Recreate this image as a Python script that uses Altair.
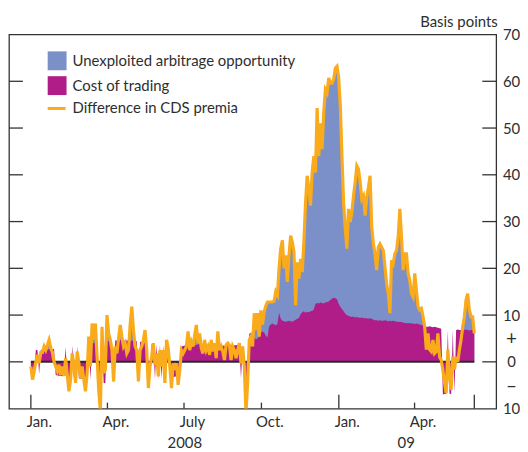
import altair as alt
import pandas as pd

diff_jan_apr08 = [-1, -3.8, -2, 0, 1.5, -0.3, 2, 2, 3.3, 2.5, 3.6, 4.7, 3, 2, 0, -1, -2, -0.6,
                  -2.8, -1, -3, 0.8, -2.8, -6.3, -3.8, 1.8, -0.6, -4.5, 2.2, -0.3, -3.5, -1, -3.8,
                  -6.3, -2.4, 5.4, -1, 8.2, 4.7, 8.2, 1.1, -6, -10.5, 7.5, -2.4, -1.7, 10, 6.1, 4.7,
                  2.5, -4.2, 3.3, 1.8, 5, 7.9, 5.4, 3.3, 4, 1.8, 2.5, 7.9, 11.8, 6.8, 3.3, 2.5, -4.2,
                  2.5, 3.3, 4.7]
diff_may_sep08 = [6.8, 2.5, -5.6, -1, 1.1, 4, -0.6, 1.8, -3.1, 2.5, -1, 2.5, -4.5, 4.7, 2.9, -1,
                  -5.6, -0.3, -1.7, -0.3, -4.9, -1.7, 2.5, 1.8, 2.5, 3.3, 6.5, 2.5, 4.3, 3.3, 5.7,
                  7.9, 4, 6.1, 2.9, 1.8, 4.7, 2.5, 3.3, 1.5, 4.7, 2.2, 4, 0.8, 6.5, 2.5, 3.3, 2.2,
                  0.4, 3.6, 4, 3.6, 0.4, 3.3, 2.5, 0.8, 2.5, 4, -0.3, 3.3, -1, -11, -4.5, 4.7, 5.4,
                  3.3, 10.4, 6.8, 10.4, 5.4, 11]
diff_oct08_jan09 = [8, 10.7, 12, 12.8, 12.8, 12.8, 12.8, 13, 15, 14.3, 20, 24.2, 26, 20, 22.8, 17.1,
                    22.8, 27, 25.6, 23.5, 12.1, 21.3, 17.8, 22, 19.2, 25.6, 34, 39.8, 37, 33.4, 40.5,
                    44, 40.5, 54.3, 44, 51, 45.5, 53.3, 58.2, 57.5, 60.7, 59.6, 59.6, 60.4, 62.8,
                    63.2, 61, 54.7, 44, 34, 28.4, 24.2, 32.7, 29.9, 32, 35.5, 38.4, 41.9, 41.2, 38.4,
                    34.8, 35.5, 31.3]
diff_feb_jun09 = [35.2, 37.3, 39.8, 28.8, 25.2, 23.1, 19.6, 24.5, 25.2, 24.5, 23.8, 20.3, 16.7, 14.6,
                  10.4, 21.7, 21, 23.1, 23.8, 26.7, 32.7, 26.7, 19.6, 23.1, 23.1, 18.9, 17.4, 14.6,
                  13.9, 18.9, 15.3, 11.8, 11.1, 11.4, 9.7, 7.5, 2.6, 6.1, 2.6, 2.2, 4.7, 1.8, 2.2,
                  6.1, 1.1, 0.4, -1.7, -4.5, -6.7, 2.6, -3.1, -6, 1.1, -1.7, 1.1, 0, 2.6, 4.7, 7.5,
                  9.6, 13.2, 14.6, 11.1, 9.6, 9.6, 6.1]

cost_jan_apr08 = [2.4, 2.5, 2.5, 2.6, 2.5, 2.6, 2.6, 2.5, 2.6, 2.5, 2.6, 2.7, 2.6, 2.7, 2.8, 2.8, 2.9,
                  3.0, 3.0, 3.1, 3.0, 3.2, 3.1, 3.3, 3.4, 3.5, 3.4, 3.3, 3.4, 3.5, 3.6, 3.5, 3.6, 3.7,
                  3.6, 3.7, 3.8, 3.9, 4.0, 4.1, 4.2, 4.3, 4.4, 4.5, 4.5, 4.6, 4.5, 4.4, 4.5, 4.6, 4.7,
                  4.6, 4.5, 4.5, 4.6, 4.7, 4.6, 4.5, 4.6, 4.5, 4.4, 4.5, 4.6, 4.5, 4.4, 4.3, 4.3, 4.2,
                  4.1]
cost_may_sep08 = [4.0, 3.9, 3.9, 3.8, 3.8, 3.7, 3.7, 3.8, 3.7, 3.6, 3.6, 3.5, 3.5, 3.4, 3.4, 3.3, 3.3,
                  3.2, 3.2, 3.1, 3.1, 3.2, 3.3, 3.4, 3.5, 3.6, 3.6, 3.7, 3.6, 3.5, 3.5, 3.6, 3.7, 3.8,
                  3.7, 3.6, 3.5, 3.5, 3.4, 3.5, 3.6, 3.5, 3.4, 3.4, 3.5, 3.6, 3.5, 3.5, 3.4, 3.5, 3.6,
                  3.7, 3.6, 3.5, 3.5, 3.6, 3.5, 3.4, 3.5, 3.6, 3.7, 3.8, 5.8, 6.0, 6.2, 6.0, 5.2, 4.8,
                  5.0, 5.5, 6.2]
cost_oct08_jan09 = [6.5, 6.3, 5.6, 5.2, 7.6, 8.0, 8.2, 8.0, 7.8, 8.1, 10.5, 9.2, 8.8, 8.7, 8.6, 8.7,
                    8.8, 8.7, 8.6, 8.8, 9.0, 9.2, 9.4, 10.2, 10.6, 10.8, 10.5, 10.7, 10.6, 10.8, 10.9,
                    11.2, 12.4, 12.6, 12.5, 12.7, 12.6, 12.5, 12.7, 12.8, 12.9, 13.2, 13.5, 13.7,
                    13.6, 13.4, 12.4, 11.8, 11.3, 10.8, 10.3, 10.0, 9.8, 9.7, 9.6, 9.7, 9.5, 9.6, 9.5,
                    9.4, 9.5, 9.4, 9.3]
cost_feb_jun09 = [9.3, 9.2, 9.3, 9.2, 9.0, 8.9, 8.9, 8.8, 8.9, 8.8, 8.8, 8.9, 8.8, 8.7, 8.8, 8.7, 8.8,
                  8.7, 8.6, 8.6, 8.5, 8.5, 8.4, 8.3, 8.3, 8.2, 8.3, 8.2, 8.2, 8.1, 8.2, 8.1, 8.0, 7.9,
                  7.8, 7.6, 7.5, 7.5, 7.6, 7.5, 7.4, 7.5, 7.4, 7.3, 7.2, 7.1, 7.0, 6.9, 6.9, 6.8, 6.8,
                  6.9, 6.8, 6.7, 6.8, 6.9, 6.8, 6.8, 6.7, 6.8, 6.9, 6.8, 6.7, 6.8, 6.8, 6.7]

series_start = "2008-01-01"
series_end = "2009-06-11"

month_ticks = ["2008-01-01", "2008-04-01", "2008-07-01", "2008-10-01", "2009-01-01", "2009-04-01"]
long_ticks = ["2008-01-01", "2009-01-01", "2009-06-11"]
short_ticks = ["2008-04-01", "2008-07-01", "2008-10-01", "2009-04-01"]
year_labels = ["2008", "09"]
year_centres = ["2008-07-02", "2009-03-22"]
y_tick_values = [0, 10, 20, 30, 40, 50, 60]
y_label_values = [70, 60, 50, 40, 30, 20, 10, 5, 0, -5, -10]
legend_labels = ["Unexploited arbitrage opportunity", "Cost of trading", "Difference in CDS premia"]

# ---- Styling ----
BLUE = "#7b8fc8"
MAGENTA = "#b01c88"
ORANGE = "#f9ab1b"
DARK = "#333333"
TEXT = "#2e2e2e"
FONT = "Lato"
FS = 15
W, H = 491, 377

diff = diff_jan_apr08 + diff_may_sep08 + diff_oct08_jan09 + diff_feb_jun09
cost = cost_jan_apr08 + cost_may_sep08 + cost_oct08_jan09 + cost_feb_jun09
dates = pd.date_range(series_start, series_end, periods=len(diff))
df = pd.DataFrame({"date": dates, "d": diff, "c": cost})


def dt(s):
    t = pd.Timestamp(s)
    return alt.DateTime(year=t.year, month=t.month, date=t.day)


xscale = alt.Scale(domain=[alt.DateTime(year=2007, month=12, date=6),
                           alt.DateTime(year=2009, month=7, date=7)])
yscale = alt.Scale(domain=[-10, 70], nice=False, zero=False)

xaxis = alt.Axis(
    values=[dt(s) for s in month_ticks],
    labelExpr="['Jan.','Feb.','Mar.','Apr.','May','June','July','Aug.','Sep.','Oct.','Nov.','Dec.'][month(datum.value)]",
    ticks=False, domain=False, grid=False, title=None,
    labelAlign="center", labelOffset=8, labelBaseline="alphabetic", labelPadding=18,
    labelFlush=False, labelOverlap=False, labelBound=False,
    labelFont=FONT, labelFontSize=FS, labelColor=TEXT,
)
yaxis = alt.Axis(
    orient="right", values=y_label_values,
    labelExpr="datum.value == 5 ? '+' : (datum.value == -5 ? '\u2013' : '' + abs(datum.value))",
    ticks=False, tickSize=0, domain=False, grid=False,
    labelAlign="center", labelBaseline="middle", labelPadding=15,
    labelFontSize={"condition": {"test": "abs(datum.value) == 5", "value": 19}, "value": FS},
    labelFlush=False, labelOverlap=False, labelBound=False,
    labelFont=FONT, labelColor=TEXT,
    title="Basis points", titleAngle=0, titleAlign="right", titleBaseline="alphabetic",
    titleX=1, titleY=-8, titleFont=FONT, titleFontSize=FS, titleFontWeight="normal",
    titleColor=TEXT,
)

X = alt.X("date:T", scale=xscale, axis=xaxis)

base = alt.Chart(df)
blue_area = base.mark_area(color=BLUE, clip=True).encode(
    x=X, y=alt.Y("d:Q", scale=yscale, axis=yaxis), y2=alt.datum(0))
mag_area = base.transform_calculate(m="datum.d >= 0 ? datum.c : -datum.c").mark_area(
    color=MAGENTA, clip=True).encode(
    x=X, y=alt.Y("m:Q", scale=yscale, axis=yaxis), y2=alt.datum(0))
zero_rule = base.mark_rule(color="#2a2a2a", strokeWidth=2).encode(
    x=alt.X("min(date):T", scale=xscale, axis=xaxis), x2="max(date):T",
    y=alt.Y(datum=0, scale=yscale, axis=yaxis))
line = base.mark_line(color=ORANGE, strokeWidth=3.2, clip=True).encode(
    x=X, y=alt.Y("d:Q", scale=yscale, axis=yaxis))

ytick_df = pd.DataFrame({"v": y_tick_values})
ytick_left = alt.Chart(ytick_df).mark_rule(color=DARK, strokeWidth=1.3).encode(
    y=alt.Y("v:Q", scale=yscale, axis=yaxis), x=alt.value(0), x2=alt.value(14))
ytick_right = alt.Chart(ytick_df).mark_rule(color=DARK, strokeWidth=1.3).encode(
    y=alt.Y("v:Q", scale=yscale, axis=yaxis), x=alt.value(W - 14), x2=alt.value(W))

long_df = pd.DataFrame({"t": pd.to_datetime(long_ticks)})
short_df = pd.DataFrame({"t": pd.to_datetime(short_ticks)})
xtick_long = alt.Chart(long_df).mark_rule(color=DARK, strokeWidth=1.3).encode(
    x=alt.X("t:T", scale=xscale, axis=xaxis), y=alt.value(H), y2=alt.value(H - 14))
xtick_short = alt.Chart(short_df).mark_rule(color=DARK, strokeWidth=1.3).encode(
    x=alt.X("t:T", scale=xscale, axis=xaxis), y=alt.value(H), y2=alt.value(H - 6))

year_df = pd.DataFrame({"t": pd.to_datetime(year_centres), "label": year_labels})
years = alt.Chart(year_df).mark_text(
    font=FONT, fontSize=FS, color=TEXT, align="center", baseline="alphabetic").encode(
    x=alt.X("t:T", scale=xscale, axis=xaxis), y=alt.value(H + 40), text="label:N")

legend_layers = []
for k, (lab, col) in enumerate(zip(legend_labels, [BLUE, MAGENTA, ORANGE])):
    one = alt.Chart(pd.DataFrame({"label": [lab]}))
    yc = [26.5, 51.5, 74.5][k]
    if k < 2:
        legend_layers.append(one.mark_rect(color=col).encode(
            x=alt.value(39), x2=alt.value(58), y=alt.value(yc - 9.5), y2=alt.value(yc + 9.5)))
    else:
        legend_layers.append(one.mark_rule(color=col, strokeWidth=3).encode(
            x=alt.value(39), x2=alt.value(57), y=alt.value(yc)))
    legend_layers.append(one.mark_text(
        font=FONT, fontSize=FS, color=TEXT, align="left", baseline="middle").encode(
        x=alt.value(64), y=alt.value(yc), text="label:N"))

chart = alt.layer(
    blue_area, mag_area, zero_rule, line, ytick_left, ytick_right, xtick_long, xtick_short,
    years, *legend_layers
).properties(
    width=W, height=H,
    padding={"left": 1, "top": 25, "right": 24, "bottom": 42},
    autosize=alt.AutoSizeParams(type="none"),
    background="white",
).configure_view(stroke=DARK, strokeWidth=1.3)

chart.save("out.html", embed_options={"renderer": "svg", "actions": False})
